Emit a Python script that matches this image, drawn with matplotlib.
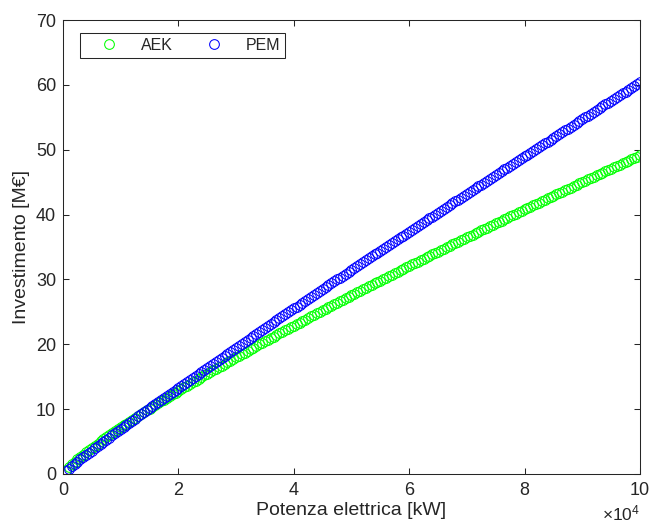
import numpy as np
import matplotlib
matplotlib.use("Agg")
import matplotlib.pyplot as plt

plt.rcParams['font.family'] = ['Liberation Sans', 'DejaVu Sans']
plt.rcParams['mathtext.fontset'] = 'custom'
plt.rcParams['mathtext.rm'] = 'Liberation Sans'
plt.rcParams['mathtext.it'] = 'Liberation Sans'

# electric power [kW], one sample every 500 kW
potenza = np.arange(500, 100001, 500)

# investment [M EUR]
aek = [0.59, 1.05, 1.47, 1.87, 2.26, 2.63, 2.99, 3.34, 3.69, 4.03,
       4.36, 4.69, 5.02, 5.34, 5.65, 5.97, 6.28, 6.58, 6.89, 7.19,
       7.49, 7.78, 8.08, 8.37, 8.66, 8.95, 9.23, 9.52, 9.80, 10.08,
       10.36, 10.64, 10.92, 11.19, 11.47, 11.74, 12.01, 12.28, 12.55, 12.82,
       13.09, 13.35, 13.62, 13.88, 14.14, 14.41, 14.67, 14.93, 15.19, 15.45,
       15.70, 15.96, 16.21, 16.47, 16.73, 16.98, 17.23, 17.49, 17.74, 17.99,
       18.24, 18.48, 18.73, 18.98, 19.23, 19.48, 19.72, 19.97, 20.21, 20.46,
       20.70, 20.94, 21.19, 21.43, 21.67, 21.91, 22.15, 22.39, 22.63, 22.87,
       23.11, 23.35, 23.58, 23.82, 24.06, 24.29, 24.53, 24.76, 25.00, 25.23,
       25.47, 25.70, 25.93, 26.17, 26.40, 26.63, 26.86, 27.09, 27.32, 27.55,
       27.78, 28.01, 28.24, 28.47, 28.70, 28.93, 29.15, 29.38, 29.61, 29.83,
       30.06, 30.29, 30.51, 30.74, 30.96, 31.19, 31.41, 31.64, 31.86, 32.09,
       32.31, 32.53, 32.75, 32.98, 33.20, 33.42, 33.64, 33.86, 34.08, 34.30,
       34.52, 34.74, 34.96, 35.18, 35.40, 35.62, 35.84, 36.05, 36.27, 36.49,
       36.71, 36.92, 37.14, 37.36, 37.58, 37.79, 38.01, 38.23, 38.44, 38.65,
       38.87, 39.08, 39.30, 39.51, 39.73, 39.94, 40.15, 40.37, 40.58, 40.80,
       41.01, 41.22, 41.43, 41.64, 41.85, 42.07, 42.28, 42.49, 42.70, 42.91,
       43.12, 43.33, 43.54, 43.76, 43.96, 44.17, 44.38, 44.59, 44.80, 45.01,
       45.22, 45.43, 45.64, 45.85, 46.06, 46.26, 46.47, 46.68, 46.88, 47.09,
       47.30, 47.50, 47.71, 47.91, 48.12, 48.33, 48.53, 48.74, 48.94, 49.15]

pem = [0.42, 0.80, 1.17, 1.53, 1.88, 2.24, 2.59, 2.93, 3.27, 3.62,
       3.95, 4.29, 4.63, 4.96, 5.29, 5.62, 5.95, 6.28, 6.61, 6.94,
       7.26, 7.59, 7.91, 8.23, 8.55, 8.87, 9.20, 9.52, 9.83, 10.15,
       10.47, 10.79, 11.10, 11.42, 11.74, 12.05, 12.36, 12.68, 12.99, 13.31,
       13.62, 13.93, 14.24, 14.55, 14.86, 15.17, 15.48, 15.79, 16.10, 16.41,
       16.72, 17.03, 17.33, 17.64, 17.95, 18.26, 18.56, 18.87, 19.17, 19.48,
       19.78, 20.09, 20.39, 20.70, 21.00, 21.30, 21.61, 21.91, 22.21, 22.51,
       22.82, 23.12, 23.42, 23.72, 24.02, 24.33, 24.63, 24.93, 25.23, 25.53,
       25.83, 26.13, 26.43, 26.73, 27.02, 27.32, 27.62, 27.92, 28.22, 28.52,
       28.81, 29.11, 29.41, 29.70, 30.00, 30.30, 30.60, 30.89, 31.19, 31.48,
       31.78, 32.07, 32.37, 32.66, 32.96, 33.25, 33.55, 33.85, 34.14, 34.44,
       34.73, 35.02, 35.32, 35.61, 35.90, 36.20, 36.49, 36.78, 37.08, 37.37,
       37.66, 37.95, 38.25, 38.54, 38.83, 39.12, 39.41, 39.71, 40.00, 40.29,
       40.58, 40.87, 41.16, 41.45, 41.74, 42.03, 42.33, 42.62, 42.90, 43.19,
       43.49, 43.78, 44.06, 44.35, 44.64, 44.93, 45.22, 45.51, 45.80, 46.09,
       46.38, 46.67, 46.96, 47.24, 47.53, 47.82, 48.11, 48.39, 48.69, 48.97,
       49.26, 49.55, 49.84, 50.12, 50.41, 50.70, 50.98, 51.27, 51.56, 51.84,
       52.13, 52.41, 52.70, 52.99, 53.27, 53.56, 53.84, 54.13, 54.42, 54.70,
       54.99, 55.28, 55.56, 55.85, 56.13, 56.42, 56.70, 56.99, 57.27, 57.56,
       57.84, 58.12, 58.41, 58.69, 58.98, 59.26, 59.55, 59.83, 60.12, 60.40]

xticks = [0, 20000, 40000, 60000, 80000, 100000]
xtick_labels = ['0', '2', '4', '6', '8', '10']
yticks = [0, 10, 20, 30, 40, 50, 60, 70]

dark = '#262626'

fig = plt.figure(figsize=(6.49, 5.29), dpi=100)
ax = fig.add_axes([0.0971, 0.104, 0.889, 0.858])

ax.plot(potenza, aek, linestyle='none', marker='o', markersize=7,
        markerfacecolor='none', markeredgecolor='#00ff00', markeredgewidth=0.75,
        label='AEK')
ax.plot(potenza, pem, linestyle='none', marker='o', markersize=7,
        markerfacecolor='none', markeredgecolor='#0000ff', markeredgewidth=0.75,
        label='PEM')

ax.set_xlim(0, 100000)
ax.set_ylim(0, 70)
ax.set_xticks(xticks)
ax.set_xticklabels(xtick_labels)
ax.set_yticks(yticks)

for s in ax.spines.values():
    s.set_color(dark)
    s.set_linewidth(0.75)
ax.tick_params(direction='in', length=4, width=0.75, color=dark,
               labelcolor=dark, labelsize=13, top=True, right=True)
ax.tick_params(axis='x', pad=6)
ax.tick_params(axis='y', pad=5)

ax.set_xlabel('Potenza elettrica [kW]', fontsize=14, color=dark, labelpad=2)
ax.set_ylabel('Investimento [M€]', fontsize=14, color=dark, labelpad=4)

# axis multiplier, drawn by hand as in the original
ax.text(1.0, -0.088, r'$\times10^{4}$', transform=ax.transAxes,
        ha='right', va='center', fontsize=12.5, color=dark)

leg = ax.legend(loc='upper left', bbox_to_anchor=(0.0295, 0.971), borderaxespad=0,
                ncol=2, numpoints=1, handlelength=3.0, handletextpad=0.5,
                columnspacing=1.1, borderpad=0.3, fontsize=11.5,
                fancybox=False, framealpha=1)
leg.get_frame().set_edgecolor(dark)
leg.get_frame().set_linewidth(0.75)
for t in leg.get_texts():
    t.set_color(dark)

fig.savefig('out.png', dpi=100)
